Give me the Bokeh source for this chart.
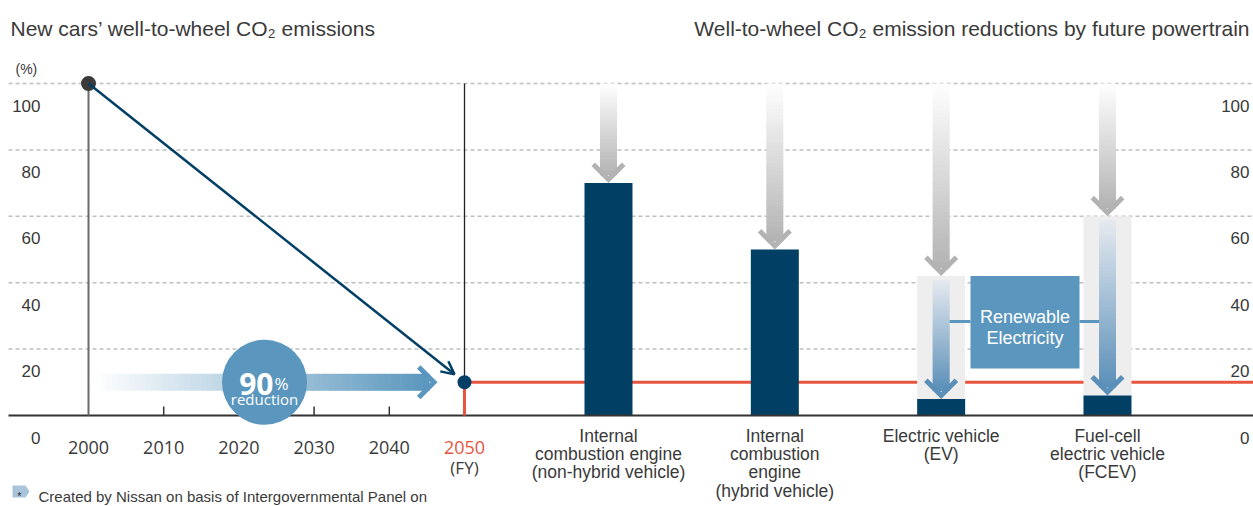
import numpy as np
from bokeh.plotting import figure
from bokeh.models import Range1d, Arrow, OpenHead
from bokeh.core.properties import value
from bokeh.embed import file_html
from bokeh.resources import INLINE

# ---------------- data ----------------
title_left = "New cars’ well-to-wheel CO₂ emissions"
title_right = "Well-to-wheel CO₂ emission reductions by future powertrain"
unit_label = "(%)"
years = [2000, 2050]
fleet_emissions = [100, 10]
year_ticks = [2000, 2010, 2020, 2030, 2040, 2050]
year_tick_labels = ["2000", "2010", "2020", "2030", "2040", "2050"]
fy_label = "(FY)"
value_ticks = [0, 20, 40, 60, 80, 100]
value_tick_labels = ["0", "20", "40", "60", "80", "100"]
powertrains = [
    "Internal\ncombustion engine\n(non-hybrid vehicle)",
    "Internal\ncombustion\nengine\n(hybrid vehicle)",
    "Electric vehicle\n(EV)",
    "Fuel-cell\nelectric vehicle\n(FCEV)",
]
powertrain_emissions = [70, 50, 5, 6]
emissions_without_renewables = [None, None, 42, 60]
reduction_text = ["90", "%", "reduction"]
renewable_text = ["Renewable", "Electricity"]
footnote = "Created by Nissan on basis of Intergovernmental Panel on"

# ---------------- layout ----------------
W, H = 1253, 506
# pixel anchors of the scales
YEAR0_PX, PX_YR = 88.0, 7.52          # year 2000 at x=88, 7.52 px per year
CAT0_PX, PX_CAT = 524.83, 166.33      # category index 0 edge, px per category
ZERO_PX, PX_Y = 415.0, 3.32           # value 0 at y=415, px per unit

X_START = years[0] - YEAR0_PX / PX_YR
X_END = years[0] + (W - YEAR0_PX) / PX_YR
C_START = -CAT0_PX / PX_CAT
C_END = (W - CAT0_PX) / PX_CAT
Y_END = ZERO_PX / PX_Y
Y_START = (ZERO_PX - H) / PX_Y


def px_year(px):
    return years[0] + (px - YEAR0_PX) / PX_YR


def px_cat(px):
    return (px - CAT0_PX) / PX_CAT


def px_val(py):
    return (ZERO_PX - py) / PX_Y


NAVY = "#023f65"
RED = "#e8553f"
BLUE = "#5a96bd"
GRID = "#bfbfbf"
TXT = "#3a3a3a"
FONT = value("Liberation Sans")
FONT2 = value("Open Sans")

p = figure(width=W, height=H, x_range=Range1d(X_START, X_END), y_range=Range1d(Y_START, Y_END),
           x_axis_location=None, y_axis_location=None, toolbar_location=None,
           output_backend="svg", min_border=0, outline_line_color=None)
p.extra_x_ranges = {"cat": Range1d(C_START, C_END)}
p.xgrid.visible = False
p.ygrid.visible = False

cat_x = [i + 0.5 for i in range(len(powertrains))]
bar_w = 48 / PX_CAT
target = fleet_emissions[-1]


def lerp(c0, c1, t):
    a = [int(c0[i:i + 2], 16) for i in (1, 3, 5)]
    b = [int(c1[i:i + 2], 16) for i in (1, 3, 5)]
    return "#%02x%02x%02x" % tuple(int(round(a[k] + (b[k] - a[k]) * t)) for k in range(3))


HEAD = [(0, 0), (-17, 17), (-13.5, 20.5), (0, 7), (13.5, 20.5), (17, 17)]


def v_arrow(cx, y_top, y_tip, c0, c1, n=50):
    hw = 8.5 / PX_CAT
    shaft_bottom = y_tip + 8.5 / PX_Y
    edges = np.linspace(y_top, shaft_bottom, n + 1)
    tops = list(edges[:-1])
    bottoms = list(edges[1:] - 0.6 / PX_Y)
    cols = [lerp(c0, c1, (i + 0.5) / n) for i in range(n)]
    p.quad(left=cx - hw, right=cx + hw, top=tops, bottom=bottoms, fill_color=cols,
           line_color=None, x_range_name="cat")
    xs = [cx + dx / PX_CAT for dx, dy in HEAD]
    ys = [y_tip + dy / PX_Y for dx, dy in HEAD]
    p.patch(xs, ys, fill_color=c1, line_color=None, x_range_name="cat")


def h_arrow(x_start, x_tip, yc, c0, c1, n=60):
    hh = 8.5 / PX_Y
    shaft_end = x_tip - 8.5 / PX_YR
    edges = np.linspace(x_start, shaft_end, n + 1)
    lefts = list(edges[:-1])
    rights = list(edges[1:] + 0.6 / PX_YR)
    cols = [lerp(c0, c1, (i + 0.5) / n) for i in range(n)]
    p.quad(left=lefts, right=rights, top=yc + hh, bottom=yc - hh, fill_color=cols, line_color=None)
    xs = [x_tip - dy / PX_YR for dx, dy in HEAD]
    ys = [yc + dx / PX_Y for dx, dy in HEAD]
    p.patch(xs, ys, fill_color=c1, line_color=None)


# gridlines
grid_vals = [v for v in value_ticks if v > 0]
p.segment(x0=[px_year(8)] * len(grid_vals), x1=[X_END] * len(grid_vals), y0=grid_vals, y1=grid_vals,
          line_color=GRID, line_width=1.5, line_dash="4 3")

# target line (red)
p.segment(x0=[years[-1]], x1=[X_END], y0=[target], y1=[target], line_color=RED, line_width=3)

# light boxes behind EV / FCEV
for cx, top, before in zip(cat_x, powertrain_emissions, emissions_without_renewables):
    if before is not None:
        p.quad(left=cx - bar_w / 2, right=cx + bar_w / 2, bottom=top, top=before,
               fill_color="#eeeeee", line_color=None, x_range_name="cat")

# gray arrows and blue (renewable) arrows
for cx, top, before in zip(cat_x, powertrain_emissions, emissions_without_renewables):
    gray_tip = before if before is not None else top
    v_arrow(cx, value_ticks[-1], gray_tip, "#ffffff", "#b3b3b3")
    if before is not None:
        v_arrow(cx, before - 4 / PX_Y, top, "#e6eaf0", "#5a8fb8")

# bars
p.vbar(x=cat_x, top=powertrain_emissions, bottom=0, width=bar_w, fill_color=NAVY,
       line_color=None, x_range_name="cat")

# renewable electricity box and connectors
box_l, box_r = px_cat(970), px_cat(1079)
box_t, box_b = emissions_without_renewables[2], px_val(368)
conn_y = px_val(321)
p.segment(x0=[cat_x[2] + 8.5 / PX_CAT, box_r], x1=[box_l, cat_x[3] - 8.5 / PX_CAT],
          y0=[conn_y, conn_y], y1=[conn_y, conn_y], line_color=BLUE, line_width=3, x_range_name="cat")
p.quad(left=box_l, right=box_r, top=box_t, bottom=box_b, fill_color=BLUE, line_color=None,
       x_range_name="cat")
bx = (box_l + box_r) / 2
p.text(x=[bx, bx], y=[px_val(316.7), px_val(337.3)], text=renewable_text, text_font=FONT,
       text_font_size="18px", text_color="white", text_align="center", text_baseline="alphabetic",
       x_range_name="cat")

# baseline and year ticks
p.segment(x0=[px_year(8)], x1=[X_END], y0=[0], y1=[0], line_color="#333333", line_width=2)
inner_ticks = year_ticks[1:-1]
p.segment(x0=inner_ticks, x1=inner_ticks, y0=[0] * len(inner_ticks),
          y1=[9 / PX_Y] * len(inner_ticks), line_color="#333333", line_width=1.5)

# left panel vertical lines
p.segment(x0=[years[0]], x1=[years[0]], y0=[0], y1=[fleet_emissions[0]], line_color="#6b6b6b", line_width=2)
p.segment(x0=[years[-1]], x1=[years[-1]], y0=[target], y1=[value_ticks[-1]], line_color="#222222", line_width=1.3)
p.segment(x0=[years[-1]], x1=[years[-1]], y0=[0], y1=[target], line_color=RED, line_width=3)

# horizontal gradient arrow and 90% circle
h_arrow(px_year(95), px_year(437), target, "#ffffff", BLUE)
cx90 = px_year(264)
p.scatter(x=[cx90], y=[target], size=85, marker="circle", fill_color=BLUE, line_color=None)
p.text(x=[px_year(273)], y=[px_val(383.3)], text=[reduction_text[0]], text_font=FONT2,
       text_font_size="30px", text_font_style="bold", text_color="white", text_align="right",
       text_baseline="alphabetic")
p.text(x=[px_year(274)], y=[px_val(383.3)], text=[reduction_text[1]], text_font=FONT2,
       text_font_size="17px", text_color="white", text_align="left", text_baseline="alphabetic")
p.text(x=[cx90], y=[px_val(398.5)], text=[reduction_text[2]], text_font=FONT2,
       text_font_size="15px", text_color="white", text_align="center", text_baseline="alphabetic")

# diagonal trend arrow
back = 1.33
slope = (fleet_emissions[-1] - fleet_emissions[0]) / (years[-1] - years[0])
p.add_layout(Arrow(x_start=years[0], y_start=fleet_emissions[0],
                   x_end=years[-1] - back, y_end=fleet_emissions[-1] - slope * back,
                   line_color=NAVY, line_width=2.5,
                   end=OpenHead(size=13, line_width=2.5, line_color=NAVY)))
p.scatter(x=[years[0]], y=[fleet_emissions[0]], size=15, marker="circle", fill_color="#3b3a3b", line_color=None)
p.scatter(x=[years[-1]], y=[fleet_emissions[-1]], size=14, marker="circle", fill_color=NAVY, line_color=None)

# titles
p.text(x=[px_year(10)], y=[px_val(27.5)], text=[title_left], text_font=FONT, text_font_size="21px",
       text_color=TXT, text_align="left", text_baseline="alphabetic")
p.text(x=[px_year(1249)], y=[px_val(27.5)], text=[title_right], text_font=FONT, text_font_size="21px",
       text_color=TXT, text_align="right", text_baseline="alphabetic")
p.text(x=[px_year(15)], y=[px_val(68)], text=[unit_label], text_font=FONT, text_font_size="14px",
       text_color=TXT, text_align="left", text_baseline="alphabetic")

# value tick labels (left and right)
lab_y = [v - 22 / PX_Y for v in value_ticks]
p.text(x=[px_year(40)] * len(value_ticks), y=lab_y, text=value_tick_labels, text_font=FONT,
       text_font_size="17px", text_color=TXT, text_align="right", text_baseline="alphabetic")
p.text(x=[px_year(1249)] * len(value_ticks), y=lab_y, text=value_tick_labels, text_font=FONT,
       text_font_size="17px", text_color=TXT, text_align="right", text_baseline="alphabetic")

# year labels
ycol = [RED if y == years[-1] else TXT for y in year_ticks]
p.text(x=year_ticks, y=[px_val(446.5)] * len(year_ticks), text=year_tick_labels, text_font=FONT2,
       text_font_size="18px", text_color=ycol, text_align="center", text_baseline="alphabetic")
p.text(x=[years[-1]], y=[px_val(467)], text=[fy_label], text_font=FONT2, text_font_size="17px",
       text_color=TXT, text_align="center", text_baseline="alphabetic")

# category labels
lx, ly, lt = [], [], []
for cx, lab in zip(cat_x, powertrains):
    for i, line in enumerate(lab.split("\n")):
        lx.append(cx)
        ly.append(px_val(435 + i * 18.4))
        lt.append(line)
p.text(x=lx, y=ly, text=lt, text_font=FONT, text_font_size="17.5px", text_color=TXT,
       text_align="center", text_baseline="alphabetic", x_range_name="cat")

# footnote (kept fully inside the canvas)
ix = [px_year(v) for v in (12, 25, 29, 25, 12)]
iy = [px_val(v) for v in (485, 485, 491, 497, 497)]
p.patch(ix, iy, fill_color="#a8c4db", line_color=None)
p.text(x=[px_year(19)], y=[px_val(495)], text=["*"], text_font=FONT, text_font_size="11px",
       text_color="#333333", text_align="center", text_baseline="alphabetic")
p.text(x=[px_year(38)], y=[px_val(496)], text=[footnote], text_font=FONT, text_font_size="15px",
       text_color=TXT, text_align="left", text_baseline="alphabetic")

open("out.html", "w").write(file_html(p, INLINE))
